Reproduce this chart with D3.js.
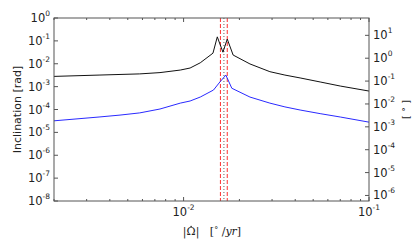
<!DOCTYPE html>
<html lang="en">
<head>
<meta charset="UTF-8">
<title>Inclination</title>
<style>
body { margin: 0; background: #fff; }
svg text { font-family: "DejaVu Sans", sans-serif; fill: #222; }
.math { font-family: "DejaVu Serif", serif; }
</style>
</head>
<body>
<script src="https://cdn.jsdelivr.net/npm/d3@7"></script>
<script>
var width = 415, height = 243
var margin = {left: 54, right: 46, top: 18, bottom: 42}

// |Omega dot| [deg/yr]
var blackX = [0.002, 0.0035, 0.00454, 0.0058, 0.00746, 0.0096, 0.01084, 0.0123, 0.0144, 0.0152, 0.0163, 0.0172, 0.0185, 0.0228, 0.0292, 0.0352, 0.0425, 0.0545, 0.07, 0.1]
var blackY = [2.8e-3, 3.2e-3, 3.4e-3, 3.6e-3, 4.1e-3, 5.3e-3, 6.5e-3, 1.1e-2, 2.9e-2, 1.5e-1, 3.2e-2, 1.2e-1, 2.4e-2, 9.8e-3, 4.5e-3, 3.2e-3, 2.4e-3, 1.6e-3, 1.06e-3, 6.4e-4]
var blueX = [0.002, 0.0035, 0.00454, 0.0058, 0.00746, 0.0096, 0.01084, 0.0123, 0.0145, 0.0157, 0.0169, 0.0182, 0.0228, 0.0292, 0.0352, 0.0425, 0.0545, 0.07, 0.1]
var blueY = [3.2e-5, 4.7e-5, 5.7e-5, 7.1e-5, 1.05e-4, 1.9e-4, 2.35e-4, 3.5e-4, 7.1e-4, 1.6e-3, 3.2e-3, 8.5e-4, 3.5e-4, 1.9e-4, 1.3e-4, 9.5e-5, 6.6e-5, 4.7e-5, 2.8e-5]
var redLines = [0.0158, 0.0172]
var grayLines = [0.0165]

var radExp = [0, -1, -2, -3, -4, -5, -6, -7, -8]
var degExp = [1, 0, -1, -2, -3, -4, -5, -6]
var xMajor = [-2, -1]

var svg = d3.select('body').append('svg').attr('width', width).attr('height', height)

var x0 = margin.left, x1 = width - margin.right, y0 = margin.top, y1 = height - margin.bottom
var x = d3.scaleLog().domain([0.002, 0.1]).range([x0, x1])
var y = d3.scaleLog().domain([1e-8, 1]).range([y1, y0])
var yDeg = d3.scaleLog().domain([1e-8 * 180 / Math.PI, 180 / Math.PI]).range([y1, y0])

var line = d3.line().x(function (d) { return x(d[0]) }).y(function (d) { return y(d[1]) })

// vertical markers
svg.selectAll('.red').data(redLines).enter().append('line')
    .attr('x1', x).attr('x2', x).attr('y1', y0).attr('y2', y1)
    .attr('stroke', '#ff3030').attr('stroke-width', 1).attr('stroke-dasharray', '4,2')
svg.selectAll('.gray').data(grayLines).enter().append('line')
    .attr('x1', x).attr('x2', x).attr('y1', y0).attr('y2', y1)
    .attr('stroke', '#666').attr('stroke-width', 1).attr('stroke-dasharray', '1,2')

svg.append('path').attr('d', line(d3.zip(blackX, blackY)))
    .attr('fill', 'none').attr('stroke', '#111').attr('stroke-width', 1)
svg.append('path').attr('d', line(d3.zip(blueX, blueY)))
    .attr('fill', 'none').attr('stroke', '#2a2aff').attr('stroke-width', 1)

// frame
svg.append('rect').attr('x', x0).attr('y', y0).attr('width', x1 - x0).attr('height', y1 - y0)
    .attr('fill', 'none').attr('stroke', '#555').attr('stroke-width', 1)

var tickColor = '#555'
// x ticks, bottom and top, inside
var xMinor = x.ticks().filter(function (v) { return v >= 0.002 && v <= 0.1 })
xMinor.forEach(function (v) {
    var major = Math.abs(Math.log10(v) - Math.round(Math.log10(v))) < 1e-9
    var len = major ? 4 : 2
    svg.append('line').attr('x1', x(v)).attr('x2', x(v)).attr('y1', y1).attr('y2', y1 - len).attr('stroke', tickColor)
    svg.append('line').attr('x1', x(v)).attr('x2', x(v)).attr('y1', y0).attr('y2', y0 + len).attr('stroke', tickColor)
})

function powLabel(sel, e) {
    sel.append('tspan').text('10').attr('font-size', 11.5)
    sel.append('tspan').text(e).attr('font-size', 7.5).attr('dy', -6)
}

xMajor.forEach(function (e) {
    var t = svg.append('text').attr('x', x(Math.pow(10, e))).attr('y', 216).attr('text-anchor', 'middle')
    powLabel(t, e)
})

radExp.forEach(function (e) {
    var v = Math.pow(10, e)
    svg.append('line').attr('x1', x0).attr('x2', x0 + 4).attr('y1', y(v)).attr('y2', y(v)).attr('stroke', tickColor)
    var t = svg.append('text').attr('x', 50).attr('y', y(v) + 4).attr('text-anchor', 'end')
    powLabel(t, e)
})

degExp.forEach(function (e) {
    var v = Math.pow(10, e)
    svg.append('line').attr('x1', x1).attr('x2', x1 - 4).attr('y1', yDeg(v)).attr('y2', yDeg(v)).attr('stroke', tickColor)
    var t = svg.append('text').attr('x', x1 + 4).attr('y', yDeg(v) + 4).attr('text-anchor', 'start')
    powLabel(t, e)
})

// axis titles
svg.append('text').attr('transform', 'translate(21,' + ((y0 + y1) / 2) + ') rotate(-90)')
    .attr('text-anchor', 'middle').attr('font-size', 11).text('Inclination [rad]')

svg.append('text').attr('class', 'math').attr('transform', 'translate(409,' + ((y0 + y1) / 2) + ') rotate(-90)')
    .attr('text-anchor', 'middle').attr('font-size', 10).text('[ ° ]')

var xl = svg.append('text').attr('class', 'math').attr('x', 212).attr('y', 235)
    .attr('text-anchor', 'middle').attr('font-size', 11)
xl.append('tspan').text('|')
xl.append('tspan').attr('class', 'omega').text('Ω')
xl.append('tspan').text('|\u00a0\u00a0\u00a0[')
xl.append('tspan').text('°').attr('font-size', 8).attr('dy', -3)
xl.append('tspan').text('\u00a0/').attr('dy', 3)
xl.append('tspan').text('yr').attr('font-style', 'italic')
xl.append('tspan').text(']')

// dot over Omega
var ob = xl.select('.omega').node().getBBox()
svg.append('circle').attr('cx', ob.x + ob.width / 2).attr('cy', ob.y + 1.5).attr('r', 0.8).attr('fill', '#222')
</script>
</body>
</html>
